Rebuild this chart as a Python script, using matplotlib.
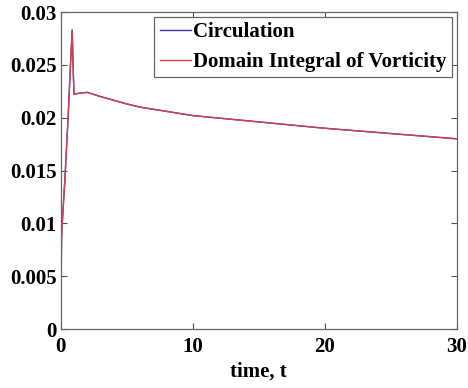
import matplotlib
matplotlib.use("Agg")
import matplotlib.pyplot as plt

# time samples and the two (nearly identical) series
time = [0, 0.02, 0.05, 0.08, 0.13, 0.3, 0.55, 0.73, 0.86, 0.95, 1.0, 1.3,
        2.0, 3.0, 4.0, 5.0, 6.0, 7.5, 10, 12.5, 15, 17.5, 20, 22.5, 25,
        27.5, 30]
circulation = [0.0012, 0.004, 0.0085, 0.0095, 0.0105, 0.014, 0.020, 0.025,
               0.0283, 0.024, 0.0222, 0.0223, 0.0224, 0.0220, 0.02165,
               0.0213, 0.0210, 0.0207, 0.0202, 0.0199, 0.0196, 0.0193,
               0.0190, 0.01875, 0.0185, 0.01825, 0.0180]
domain_integral = list(circulation)

y_ticks = [0, 0.005, 0.01, 0.015, 0.02, 0.025, 0.03]
y_labels = ["0", "0.005", "0.01", "0.015", "0.02", "0.025", "0.03"]
x_ticks = [0, 10, 20, 30]


def plot_data():
    plt.rcParams["font.family"] = ["Liberation Serif", "DejaVu Serif"]
    plt.rcParams["font.weight"] = "bold"

    fig = plt.figure(figsize=(4.68, 3.88), dpi=100)
    ax = fig.add_axes([0.130, 0.152, 0.846, 0.817])

    ax.plot(time, circulation, color="#3a3aa8", lw=1.0, label="Circulation")
    ax.plot(time, domain_integral, color="#d0404e", lw=1.0,
            label="Domain Integral of Vorticity")

    ax.set_xlim(0, 30)
    ax.set_ylim(0, 0.03)
    ax.set_xticks(x_ticks)
    ax.set_xticklabels([str(v) for v in x_ticks])
    ax.set_yticks(y_ticks)
    ax.set_yticklabels(y_labels)
    ax.tick_params(direction="in", top=True, right=True, length=4,
                   width=0.8, color="#555555", labelsize=15)
    ax.tick_params(axis="x", pad=6)
    ax.tick_params(axis="y", pad=3)
    for s in ax.spines.values():
        s.set_color("#666666")
        s.set_linewidth(0.9)

    ax.set_xlabel("time, t", fontsize=15, fontweight="bold", labelpad=3)

    leg = ax.legend(loc="upper right", fontsize=15, handlelength=1.5,
                    handletextpad=0.1, borderpad=0.25, labelspacing=0.45,
                    fancybox=False, framealpha=1, borderaxespad=0.25)
    leg.get_frame().set_edgecolor("#666666")
    leg.get_frame().set_linewidth(0.9)

    fig.savefig("out.png", dpi=100)


if __name__ == "__main__":
    plot_data()
